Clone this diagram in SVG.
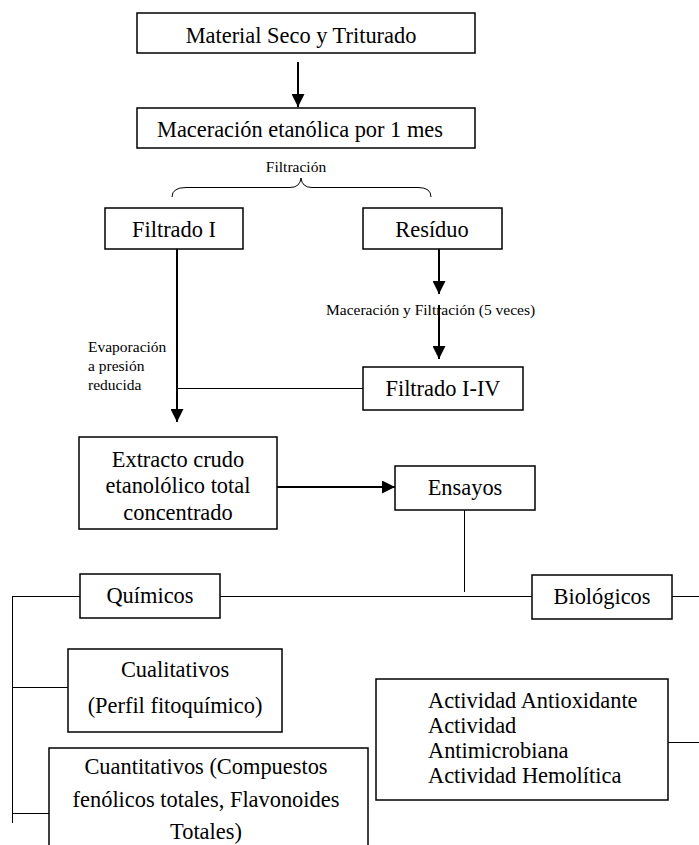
<svg xmlns="http://www.w3.org/2000/svg" width="699" height="845" viewBox="0 0 699 845">
<defs>
<style>
.box{fill:#fff;stroke:#000;stroke-width:1.5}
.t{font-family:"Liberation Serif","Times New Roman",serif;font-size:22.4px;fill:#000}
.c{text-anchor:middle}
.s{font-family:"Liberation Serif","Times New Roman",serif;font-size:15.5px;fill:#000}
.ln{stroke:#000;stroke-width:1;fill:none}
.ar{stroke:#000;stroke-width:2;fill:none;marker-end:url(#ah)}
</style>
<marker id="ah" viewBox="0 0 10 10" refX="10" refY="5" markerUnits="userSpaceOnUse" markerWidth="13" markerHeight="13" orient="auto">
<path d="M0,0 L10,5 L0,10 Z" fill="#000"/>
</marker>
</defs>
<rect width="699" height="845" fill="#fff"/>
<g id="connectors">
<line class="ar" x1="298" y1="62" x2="298" y2="107"/>
<path class="ln" d="M172,197 Q172,187.5 186,187.5 L290,187.5 Q300,187.5 301,178 Q302,187.5 312,187.5 L418,187.5 Q431,187.5 431,197"/>
<line class="ar" x1="177" y1="249" x2="177" y2="422"/>
<line class="ar" x1="439" y1="249" x2="439" y2="294"/>
<line class="ar" x1="439" y1="305" x2="439" y2="359"/>
<line class="ln" x1="177" y1="388.5" x2="363" y2="388.5"/>
<line class="ar" x1="277" y1="487" x2="395" y2="487"/>
<line class="ln" x1="464.5" y1="510" x2="464.5" y2="592"/>
<line class="ln" x1="12" y1="596.5" x2="80" y2="596.5"/>
<line class="ln" x1="220" y1="596.5" x2="532" y2="596.5"/>
<line class="ln" x1="672" y1="596.5" x2="699" y2="596.5"/>
<line class="ln" x1="12.5" y1="596" x2="12.5" y2="823"/>
<line class="ln" x1="12" y1="687.5" x2="68" y2="687.5"/>
<line class="ln" x1="12" y1="813.5" x2="49" y2="813.5"/>
<line class="ln" x1="668" y1="742.5" x2="699" y2="742.5" stroke="#555"/>
</g>
<g id="labels">
<text class="s c" x="296" y="172">Filtración</text>
<text class="s" x="326" y="315">Maceración y Filtración (5 veces)</text>
<text class="s" x="88" y="352">Evaporación</text>
<text class="s" x="88" y="371">a presión</text>
<text class="s" x="88" y="390">reducida</text>
</g>
<g id="n1"><rect class="box" x="137" y="13" width="338" height="40"/><text class="t c" x="301" y="43">Material Seco y Triturado</text></g>
<g id="n2"><rect class="box" x="137" y="108" width="338" height="40"/><text class="t c" x="300" y="137">Maceración etanólica por 1 mes</text></g>
<g id="n3"><rect class="box" x="105" y="208" width="138" height="41"/><text class="t c" x="174" y="237">Filtrado I</text></g>
<g id="n4"><rect class="box" x="363" y="208" width="139" height="41"/><text class="t c" x="432" y="237">Resíduo</text></g>
<g id="n5"><rect class="box" x="363" y="367" width="160" height="43"/><text class="t c" x="443" y="396">Filtrado I-IV</text></g>
<g id="n6"><rect class="box" x="79" y="437" width="198" height="92"/><text class="t c" x="178" y="467">Extracto crudo</text><text class="t c" x="178" y="493">etanolólico total</text><text class="t c" x="178" y="520">concentrado</text></g>
<g id="n7"><rect class="box" x="395" y="466" width="140" height="44"/><text class="t c" x="465" y="495">Ensayos</text></g>
<g id="n8"><rect class="box" x="80" y="574" width="140" height="44"/><text class="t c" x="150" y="603">Químicos</text></g>
<g id="n9"><rect class="box" x="532" y="575" width="140" height="44"/><text class="t c" x="602" y="604">Biológicos</text></g>
<g id="n10"><rect class="box" x="68" y="649" width="214" height="83"/><text class="t c" x="175" y="677">Cualitativos</text><text class="t c" x="175" y="713">(Perfil fitoquímico)</text></g>
<g id="n11"><rect class="box" x="49" y="748" width="319" height="110"/><text class="t c" x="206" y="774">Cuantitativos (Compuestos</text><text class="t c" x="206" y="807">fenólicos totales, Flavonoides</text><text class="t c" x="206" y="839">Totales)</text></g>
<g id="n12"><rect class="box" x="376" y="679" width="292" height="121"/><text class="t" x="428" y="708">Actividad Antioxidante</text><text class="t" x="428" y="733">Actividad</text><text class="t" x="428" y="758">Antimicrobiana</text><text class="t" x="428" y="783">Actividad Hemolítica</text></g>
</svg>
